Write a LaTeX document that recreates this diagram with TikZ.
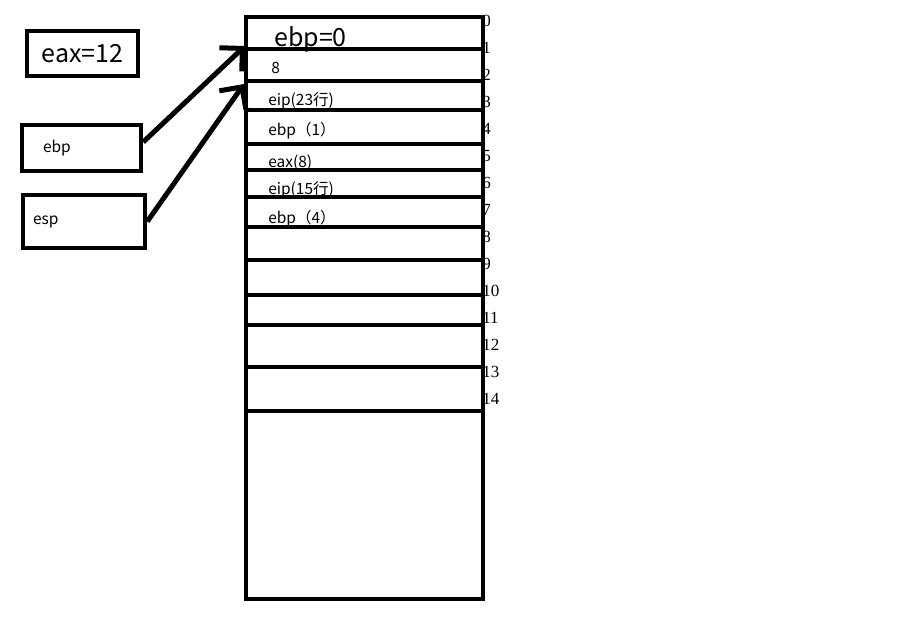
\documentclass[tikz,border=0pt]{standalone}
\usepackage{fontspec}
\setmainfont{Liberation Serif}
\newfontfamily\cjk{Noto Sans CJK SC}
\usetikzlibrary{arrows.meta, positioning}

\begin{document}
\begin{tikzpicture}[x=1pt, y=-1pt, line width=4.5pt,
  box/.style={draw, line width=4.5pt, inner ysep=0pt, align=left},
  cell/.style={anchor=west, inner sep=0pt, font=\cjk\fontsize{15.5}{17}\selectfont},
  idx/.style={anchor=west, inner sep=0pt, font=\fontsize{17}{18}\selectfont},
  ptr/.style={-{Straight Barb[angle=90:23pt]}, line width=5pt}]
  \useasboundingbox (0,0) rectangle (918,625);

  % registers
  \node[box, minimum width=111pt, minimum height=45pt, font=\cjk\fontsize{25}{27}\selectfont] (eax) at (82.5,53.5) {eax=12};
  \node[box, minimum width=119pt, minimum height=46pt, inner xsep=21pt, text width=77pt, font=\cjk\fontsize{15.5}{17}\selectfont] (ebp) at (81.5,148) {ebp};
  \node[box, minimum width=122pt, minimum height=53pt, inner xsep=10pt, text width=102pt, font=\cjk\fontsize{15.5}{17}\selectfont] (esp) at (84,221.5) {esp};

  % stack
  \node[box, minimum width=237pt, minimum height=582pt] (stack) at (364.5,308) {};
  \node[cell, font=\cjk\fontsize{25}{27}\selectfont] (c0) at (272,39) {ebp=0};
  \node[cell] (c1) at (269,68) {8};
  \node[cell] (c2) at (266,101) {eip(23行)};
  \node[cell] (c3) at (266,131) {ebp（1）};
  \node[cell] (c4) at (266,163) {eax(8)};
  \node[cell] (c5) at (266,190) {eip(15行)};
  \node[cell] (c6) at (266,219) {ebp（4）};
  \foreach \y in {49,81,110,144,170,197,227,260,295,325,367,411}
    \draw (stack.west |- 0,\y) -- (stack.east |- 0,\y);
  \foreach \i in {0,...,14}
    \node[idx] (n\i) at (480,{21+27*\i}) {\i};

  % pointers
  \coordinate (ebptop) at (245,46);
  \coordinate (esptop) at (244,84);
  \draw[ptr] ([yshift=6pt]ebp.east) -- (ebptop);
  \draw[ptr] (esp.east) -- (esptop);
\end{tikzpicture}
\end{document}
